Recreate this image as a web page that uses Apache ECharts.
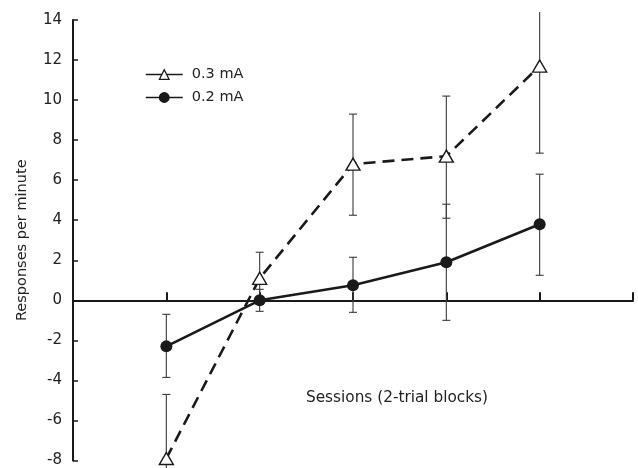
<!DOCTYPE html>
<html>
<head>
<meta charset="utf-8">
<script src="https://cdn.jsdelivr.net/npm/echarts@6/dist/echarts.min.js"></script>
<style>
html,body{margin:0;padding:0;background:#fff;}
#c{width:638px;height:468px;}
</style>
</head>
<body>
<div id="c"></div>
<script>
// ---- data ----
const sessions = [1, 2, 3, 4, 5];
const mean03 = [-7.9, 1.1, 6.8, 7.2, 11.7];
const low03 = [-11.1, -0.2, 4.25, 4.1, 7.35];
const high03 = [-4.7, 2.4, 9.3, 10.2, 14.4];
const mean02 = [-2.3, 0.0, 0.75, 1.9, 3.8];
const low02 = [-3.85, -0.55, -0.6, -1.0, 1.25];
const high02 = [-0.7, 0.55, 2.15, 4.8, 6.3];
const yTicks = [-8, -6, -4, -2, 0, 2, 4, 6, 8, 10, 12, 14];
const seriesNames = ['0.3 mA', '0.2 mA'];
const yTitle = 'Responses per minute';
const xTitle = 'Sessions (2-trial blocks)';

const Y_MIN = yTicks[0], Y_MAX = yTicks[yTicks.length - 1];
const FONT = "'DejaVu Sans', 'Liberation Sans', sans-serif";
const INK = '#1a1a1a';
const TXT = '#222';

function pairs(xs, ys) { return xs.map((x, i) => [x, ys[i]]); }
function errData(xs, lo, hi) { return xs.map((x, i) => [x, lo[i], hi[i]]); }

function errRender(params, api) {
  const x = api.value(0), lo = api.value(1), hi = api.value(2);
  const pLo = api.coord([x, lo]);
  const pHi = api.coord([x, hi]);
  const cw = 4;
  const style = { stroke: '#3a3a3a', lineWidth: 1.1 };
  const children = [
    { type: 'line', shape: { x1: pLo[0], y1: pLo[1], x2: pHi[0], y2: pHi[1] }, style: style },
    { type: 'line', shape: { x1: pLo[0] - cw, y1: pLo[1], x2: pLo[0] + cw, y2: pLo[1] }, style: style }
  ];
  if (hi <= Y_MAX) {
    children.push({ type: 'line', shape: { x1: pHi[0] - cw, y1: pHi[1], x2: pHi[0] + cw, y2: pHi[1] }, style: style });
  }
  return { type: 'group', children: children };
}

const chart = echarts.init(document.getElementById('c'), null, { renderer: 'canvas' });
chart.setOption({
  animation: false,
  backgroundColor: '#fff',
  textStyle: { fontFamily: FONT },
  grid: { left: 73, right: 5, top: 20, bottom: 6, containLabel: false },
  legend: {
    orient: 'vertical',
    left: 140, top: 62,
    itemWidth: 37, itemHeight: 12, itemGap: 8,
    data: seriesNames,
    textStyle: { fontFamily: FONT, fontSize: 14.5, color: TXT, padding: [0, 0, 0, 4] },
    lineStyle: { type: 'solid', width: 1.5 },
    itemStyle: { borderWidth: 1.3 }
  },
  xAxis: {
    type: 'value', min: 0, max: 6, interval: 1,
    axisLine: { onZero: true, lineStyle: { color: INK, width: 2 } },
    axisTick: { show: true, inside: true, length: 8, lineStyle: { color: INK, width: 2 } },
    axisLabel: { show: false },
    splitLine: { show: false }
  },
  yAxis: {
    type: 'value', min: Y_MIN, max: Y_MAX, interval: 2,
    name: yTitle, nameLocation: 'middle', nameGap: 43, nameRotate: 90,
    nameTextStyle: { fontFamily: FONT, fontSize: 14.5, color: TXT },
    axisLine: { onZero: false, lineStyle: { color: INK, width: 2 } },
    axisTick: { show: true, inside: true, length: 5, lineStyle: { color: INK, width: 1.5 } },
    axisLabel: { fontFamily: FONT, fontSize: 15, color: TXT, margin: 11 },
    splitLine: { show: false }
  },
  graphic: [{
    type: 'text', left: 306, top: 391,
    style: { text: xTitle, font: '15.3px ' + FONT, fill: TXT }
  }],
  series: [
    {
      type: 'custom', name: 'err03', data: errData(sessions, low03, high03),
      renderItem: errRender, clip: false, z: 1, silent: true,
      encode: { x: 0, y: [1, 2] }
    },
    {
      type: 'custom', name: 'err02', data: errData(sessions, low02, high02),
      renderItem: errRender, clip: false, z: 1, silent: true,
      encode: { x: 0, y: [1, 2] }
    },
    {
      type: 'line', name: seriesNames[0], data: pairs(sessions, mean03),
      z: 3,
      lineStyle: { color: INK, width: 2.6, type: [12, 7] },
      symbol: 'triangle', symbolSize: [14, 12],
      itemStyle: { color: '#fff', borderColor: INK, borderWidth: 1.4 }
    },
    {
      type: 'line', name: seriesNames[1], data: pairs(sessions, mean02),
      z: 4,
      lineStyle: { color: INK, width: 2.6 },
      symbol: 'circle', symbolSize: 12,
      itemStyle: { color: INK, borderColor: INK, borderWidth: 0 }
    }
  ]
});
</script>
</body>
</html>
